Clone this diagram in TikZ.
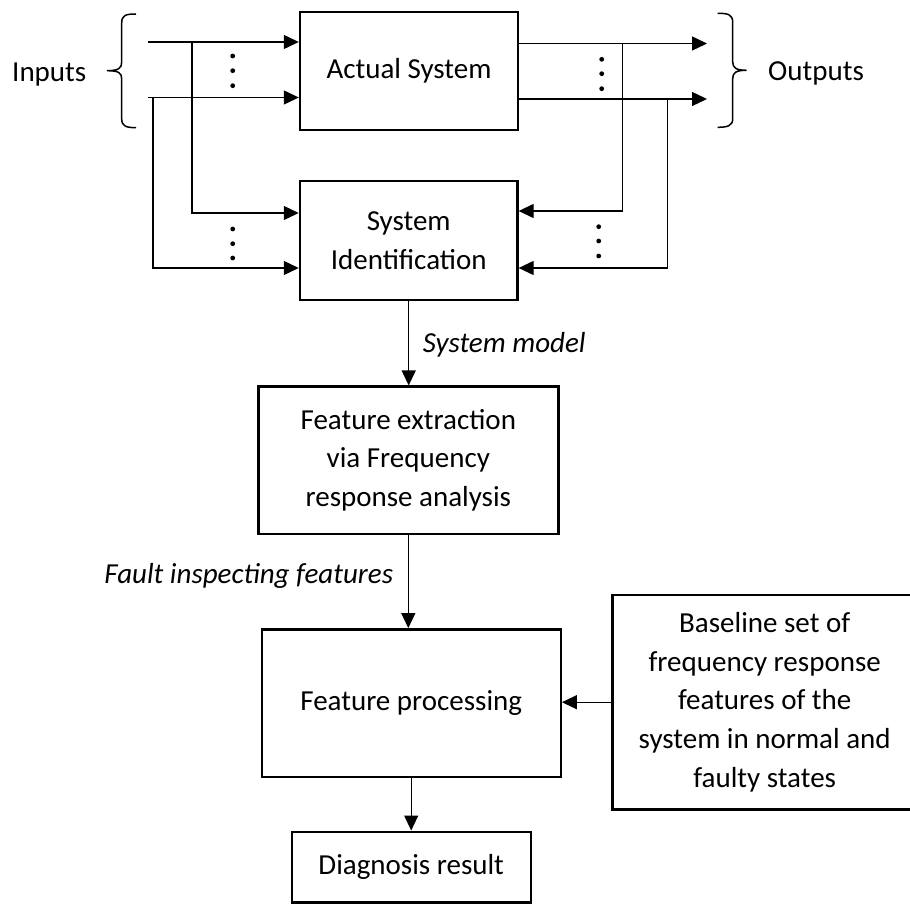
\documentclass[tikz,border=0pt]{standalone}
\usepackage{fontspec}
\setmainfont{Carlito}
\usetikzlibrary{arrows.meta,calc}
\begin{document}
\begin{tikzpicture}[x=1pt,y=-1pt,
  txt/.style={font=\fontsize{29}{38.6}\selectfont},
  box/.style={txt, draw, line width=2.4pt, align=center, inner sep=0pt},
  arr/.style={line width=1.3pt, -{Triangle[length=15pt,width=14pt]}},
  lbl/.style={txt, inner sep=0pt},
  ital/.style={lbl, font=\fontsize{29}{38.6}\selectfont\itshape},
  brace/.style={line width=1.5pt},
  dot/.style={fill=black}]
\useasboundingbox (0,0) rectangle (910,904);

% blocks
\node[box, minimum width=218pt, minimum height=118pt] (act) at (409,71) {Actual System};
\node[box, minimum width=217.5pt, minimum height=119pt] (sid) at (408.7,240.5) {System\\Identification};
\node[box, minimum width=300pt, minimum height=147.3pt] (fe) at (408.3,460.3) {Feature extraction\\via Frequency\\response analysis};
\node[box, minimum width=299pt, minimum height=147.4pt] (fp) at (411.2,703) {Feature processing};
\node[box, minimum width=239pt, minimum height=70.8pt] (dr) at (411.2,867.1) {Diagnosis result};
\node[box, minimum width=304.7pt, minimum height=214.3pt] (bl) at (764.7,702.2) {Baseline set of\\frequency response\\features of the\\system in normal and\\faulty states};

% side labels
\node[lbl, anchor=base west] (inputs) at (12,81.7) {Inputs};
\node[lbl, anchor=base west] (outputs) at (768,81) {Outputs};
\node[ital, anchor=base west] (smodel) at (422.7,352.7) {System model};
\node[ital, anchor=base east] (ffeat) at (393.3,583.3) {Fault inspecting features};

% free ends and junctions of the signal lines
\coordinate (in1) at (148,42);
\coordinate (in2) at (148,97.5);
\coordinate (out1) at (707,43.5);
\coordinate (out2) at (707,99);
\coordinate (j1) at (192,42);
\coordinate (j2) at (153,97.5);
\coordinate (k1) at (622.7,43.5);
\coordinate (k2) at (667.7,99);
\coordinate (s1) at ([yshift=27.5pt]sid.west);
\coordinate (s2) at ([yshift=-27.5pt]sid.west);
\coordinate (t1) at ([yshift=29.5pt]sid.east);
\coordinate (t2) at ([yshift=-27.5pt]sid.east);

% inputs and outputs of the actual system
\draw[arr] (in1) -- (in1 -| act.west);
\draw[arr] (in2) -- (in2 -| act.west);
\draw[arr] (act.east |- out1) -- (out1);
\draw[arr] (act.east |- out2) -- (out2);

% taps into the identification block
\draw[arr] (j1) |- (s1);
\draw[arr] (j2) |- (s2);
\draw[arr] (k1) |- (t1);
\draw[arr] (k2) |- (t2);

% main flow
\draw[arr] (sid.south) -- (sid.south |- fe.north);
\draw[arr] (fe.south) -- (fe.south |- fp.north);
\draw[arr] (fp.south) -- (fp.south |- dr.north);
\draw[arr] (bl.west) -- (bl.west -| fp.east);

% ellipsis dots
\foreach \x/\y in {232.7/56, 232.7/70.7, 232.7/85.7,
                   232.7/229, 232.7/243.7, 232.7/258,
                   601.7/59.3, 601.7/73.7, 601.7/88.7,
                   598.7/226.7, 598.7/241, 598.7/256}
  \fill[dot] (\x,\y) circle (2.4pt);

% braces
\draw[brace] (136,14) .. controls (126,14) and (121.7,15) .. (121.7,23)
  -- (121.7,62) .. controls (121.7,68) and (119,70.7) .. (107,70.7)
  .. controls (119,70.7) and (121.7,73) .. (121.7,79)
  -- (121.7,119) .. controls (121.7,126) and (126,127.7) .. (136,127.7);
\draw[brace] (717.7,13.3) .. controls (727.7,13.3) and (732.7,14.3) .. (732.7,22.3)
  -- (732.7,61.7) .. controls (732.7,67.7) and (735.7,70.3) .. (746.7,70.3)
  .. controls (735.7,70.3) and (732.7,72.7) .. (732.7,78.7)
  -- (732.7,118.7) .. controls (732.7,125.7) and (727.7,127.3) .. (717.7,127.3);
\end{tikzpicture}
\end{document}
